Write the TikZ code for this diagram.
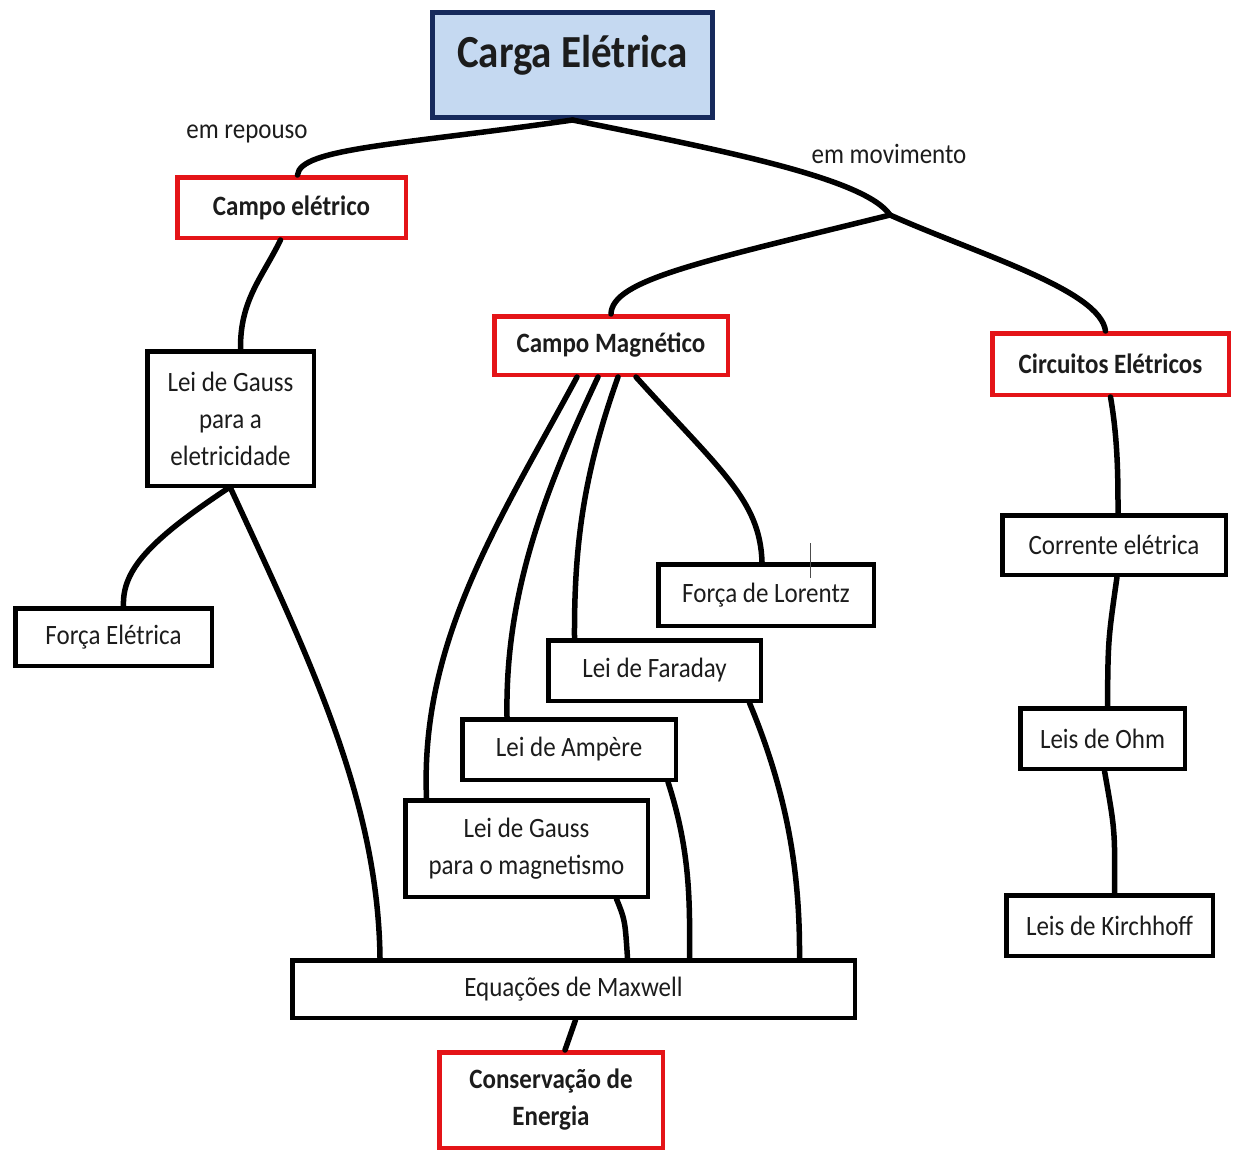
\documentclass[tikz,border=0pt]{standalone}
\usepackage{fontspec}
\setmainfont{Carlito}
\usepackage{graphicx}
\usetikzlibrary{calc}
\definecolor{boxred}{RGB}{228,20,24}
\definecolor{navy}{RGB}{22,42,92}
\definecolor{lightblue}{RGB}{197,217,241}
\definecolor{txt}{RGB}{28,28,28}
\newcommand{\vs}[1]{\scalebox{1}[1.12]{#1}}
\tikzset{
  basebox/.style={draw, line width=4.5pt, inner sep=0pt, align=center, text=txt,
    font=\fontsize{25}{37}\selectfont},
  blackbox/.style={basebox, draw=black},
  redbox/.style={basebox, draw=boxred, font=\fontsize{25}{37}\selectfont\bfseries},
  titlebox/.style={draw=navy, fill=lightblue, line width=5pt, inner sep=0pt, text=txt,
    font=\fontsize{41}{48}\selectfont\bfseries},
  lbl/.style={text=txt, font=\fontsize{25}{30}\selectfont, inner sep=0pt},
  conn/.style={line width=5.5pt, line cap=round, draw=black}
}
\begin{document}
\begin{tikzpicture}[x=1pt,y=-1pt]
\useasboundingbox (0,0) rectangle (1233,1153);
% nodes
\node[titlebox, minimum width=280, minimum height=105] (carga) at (572.5,65) {\raisebox{-3pt}[0pt][0pt]{\vs{Carga Elétrica}}};
\node[redbox, minimum width=228.5, minimum height=60.5] (ce) at (291.5,207.5) {\vs{Campo elétrico}};
\node[blackbox, minimum width=166.5, minimum height=134.5] (lge) at (230.5,418.5) {\vs{Lei de Gauss}\\\vs{para a}\\\vs{eletricidade}};
\node[blackbox, minimum width=196.5, minimum height=57.5] (fe) at (113.5,637) {\vs{Força Elétrica}};
\node[redbox, minimum width=233.5, minimum height=58.5] (cm) at (611,345.5) {\vs{Campo Magnético}};
\node[redbox, minimum width=236.5, minimum height=61.5] (circ) at (1110.5,364) {\vs{Circuitos Elétricos}};
\node[blackbox, minimum width=223.5, minimum height=59.5] (corr) at (1114,545) {\vs{Corrente elétrica}};
\node[blackbox, minimum width=215.5, minimum height=61.5] (fl) at (766,595) {\vs{Força de Lorentz}};
\node[blackbox, minimum width=212.5, minimum height=60.5] (fa) at (654.5,670.5) {\vs{Lei de Faraday}};
\node[blackbox, minimum width=213.5, minimum height=60.5] (amp) at (569,749.5) {\vs{Lei de Ampère}};
\node[blackbox, minimum width=242.5, minimum height=96.5] (lgm) at (526.5,848.5) {\vs{Lei de Gauss}\\\vs{para o magnetismo}};
\node[blackbox, minimum width=164.5, minimum height=60.5] (ohm) at (1102.5,738.5) {\vs{Leis de Ohm}};
\node[blackbox, minimum width=206.5, minimum height=60.5] (kir) at (1109.5,925.5) {\vs{Leis de Kirchhoff}};
\node[blackbox, minimum width=562.5, minimum height=57.5] (max) at (573.5,989) {\vs{Equações de Maxwell}};
\node[redbox, minimum width=223.5, minimum height=95.5] (cons) at (551,1100) {\vs{Conservação de}\\\vs{Energia}};
% labels
\node[lbl] (rep) at (247,134) {\vs{em repouso}};
\node[lbl] (mov) at (889,154) {\vs{em movimento}};
\coordinate (J) at (890,215);
% connectors
\draw[conn] (carga.south) .. controls (400,145) and (300,148) .. ([xshift=6]ce.north);
\draw[conn] (carga.south) .. controls (720,150) and (865,178) .. (J);
\draw[conn] (J) .. controls (700,262) and (612,280) .. (cm.north);
\draw[conn] (J) .. controls (980,255) and (1100,290) .. ([xshift=-5]circ.north);
\draw[conn] ([xshift=-11]ce.south) .. controls (262,278) and (240,300) .. ([xshift=10]lge.north);
\draw[conn] ([xshift=-2]lge.south) .. controls (150,540) and (122,570) .. ([xshift=10]fe.north);
\draw[conn] (lge.south) .. controls (310,660) and (378,800) .. ([xshift=-193.5]max.north);
\draw[conn] ([xshift=-34]cm.south) .. controls (500,520) and (420,640) .. ([xshift=-100]lgm.north);
\draw[conn] ([xshift=-13]cm.south) .. controls (540,500) and (505,600) .. ([xshift=-62]amp.north);
\draw[conn] ([xshift=7]cm.south) .. controls (585,470) and (574,540) .. ([xshift=-80]fa.north);
\draw[conn] ([xshift=25]cm.south) .. controls (720,470) and (760,500) .. ([xshift=-4]fl.north);
\draw[conn] ([xshift=90]lgm.south) .. controls (625,920) .. ([xshift=54]max.north);
\draw[conn] ([xshift=99]amp.south) .. controls (690,850) and (690,900) .. ([xshift=116]max.north);
\draw[conn] ([xshift=95]fa.south) .. controls (790,800) and (800,880) .. ([xshift=226]max.north);
\draw[conn] ([xshift=2]max.south) -- ([xshift=14]cons.north);
\draw[conn] (circ.south) .. controls (1118,440) and (1118,480) .. ([xshift=4]corr.north);
\draw[conn] ([xshift=3]corr.south) .. controls (1108,640) .. ([xshift=5]ohm.north);
\draw[conn] ([xshift=2]ohm.south) .. controls (1115,830) .. ([xshift=5]kir.north);
% cursor tick
\draw[line width=1pt, black!70] ([xshift=44]fl.north) ++(0,-19) -- ++(0,35);
\end{tikzpicture}
\end{document}
